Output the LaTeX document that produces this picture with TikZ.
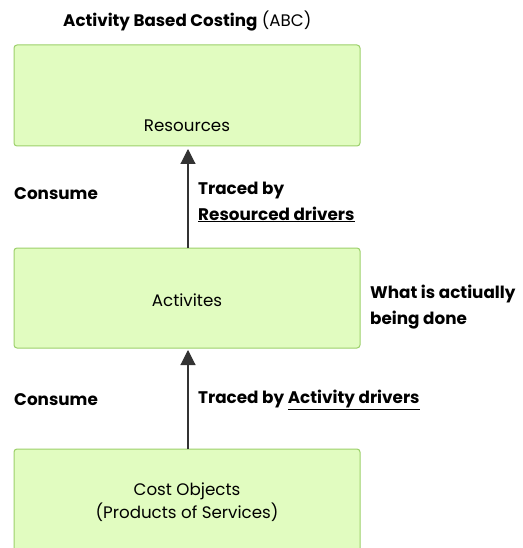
\documentclass[tikz,border=0pt]{standalone}
\usepackage{fontspec}
\setmainfont{Poppins}
\usetikzlibrary{arrows.meta}
\definecolor{boxfill}{HTML}{E1FCC0}
\definecolor{boxdraw}{HTML}{9CD06A}
\begin{document}
\begin{tikzpicture}[x=1pt,y=-1pt,
  greenbox/.style={draw=boxdraw,fill=boxfill,line width=1pt,rounded corners=3pt},
  boxtext/.style={font=\fontsize{16.7}{23}\selectfont,align=center,inner sep=0pt},
  lbl/.style={font=\fontsize{16.8}{26}\selectfont\bfseries,align=left,inner sep=0pt,anchor=west},
  conn/.style={draw=black!80,line width=1.1pt,-{Triangle[length=15pt,width=15pt]}}]
\clip (0,0) rectangle (522,548);
\fill[white] (0,0) rectangle (522,548);
\node[font=\fontsize{16.7}{20}\selectfont,inner sep=0pt,anchor=west] (title) at (63,21) {\textbf{Activity Based Costing} (ABC)};
\draw[greenbox] (14,45) rectangle (360,146);
\coordinate (b1bot) at (188,149);
\node[boxtext] (res) at (187,126) {Resources};
\draw[greenbox] (14,248) rectangle (360,348);
\coordinate (b2top) at (188,248);
\coordinate (b2bot) at (188,350);
\node[boxtext] (act) at (187,300) {Activites};
\draw[greenbox] (14,449) rectangle (360,600);
\coordinate (b3top) at (188,449);
\node[boxtext] (cost) at (187,502) {Cost Objects\\(Products of Services)};
\draw[conn] (b2top) -- (b1bot);
\draw[conn] (b3top) -- (b2bot);
\node[lbl] (c1) at (14,194) {Consume};
\node[lbl] (t1) at (198,202) {Traced by\\\underline{Resourced drivers}};
\node[lbl] (w) at (370,307) {What is actiually\\being done};
\node[lbl] (c2) at (14,400) {Consume};
\node[lbl] (t2) at (198,400) {Traced by \underline{Activity drivers}};
\end{tikzpicture}
\end{document}
